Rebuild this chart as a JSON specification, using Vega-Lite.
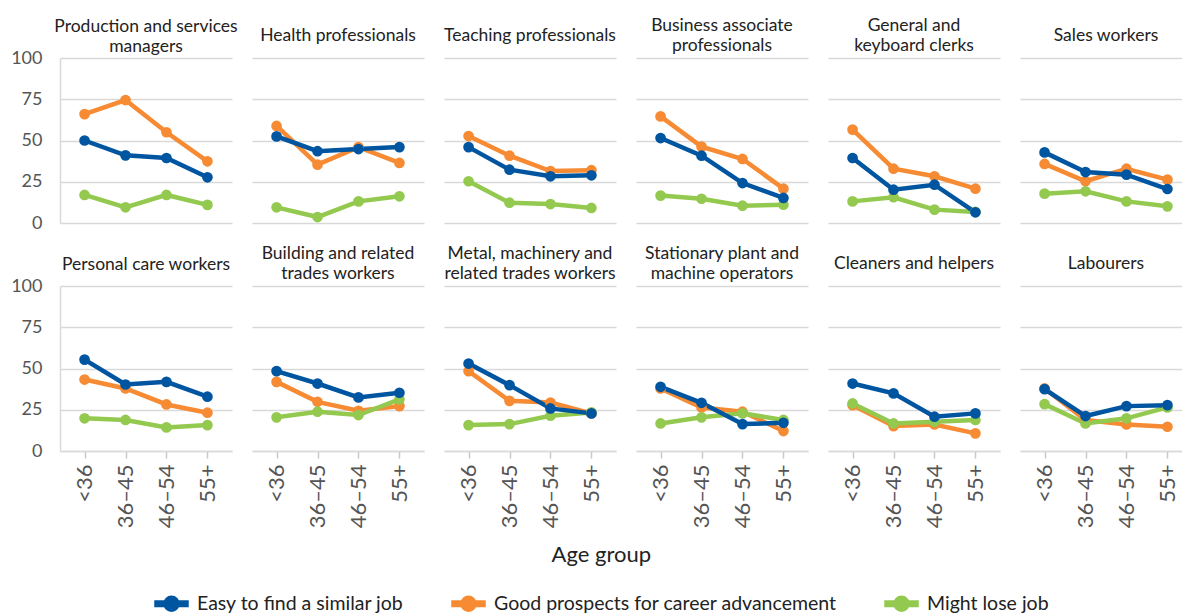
{
  "$schema": "https://vega.github.io/schema/vega-lite/v6.json",
  "padding": {"left": 10, "top": 16, "right": 0, "bottom": 0},
  "background": "white",
  "data": {"values": [
    {"occupation": "Production and services managers", "age": "<36", "easy": 50, "good": 66, "lose": 17},
    {"occupation": "Production and services managers", "age": "36–45", "easy": 41, "good": 74.5, "lose": 9.5},
    {"occupation": "Production and services managers", "age": "46–54", "easy": 39.4, "good": 55, "lose": 17},
    {"occupation": "Production and services managers", "age": "55+", "easy": 27.7, "good": 37.4, "lose": 11},
    {"occupation": "Health professionals", "age": "<36", "easy": 52.5, "good": 58.8, "lose": 9.5},
    {"occupation": "Health professionals", "age": "36–45", "easy": 43.5, "good": 35.4, "lose": 3.6},
    {"occupation": "Health professionals", "age": "46–54", "easy": 44.8, "good": 46, "lose": 13.1},
    {"occupation": "Health professionals", "age": "55+", "easy": 46, "good": 36.4, "lose": 16.2},
    {"occupation": "Teaching professionals", "age": "<36", "easy": 46, "good": 52.7, "lose": 25.3},
    {"occupation": "Teaching professionals", "age": "36–45", "easy": 32.3, "good": 40.8, "lose": 12.3},
    {"occupation": "Teaching professionals", "age": "46–54", "easy": 28.3, "good": 31.5, "lose": 11.5},
    {"occupation": "Teaching professionals", "age": "55+", "easy": 28.9, "good": 32, "lose": 9.1},
    {"occupation": "Business associate professionals", "age": "<36", "easy": 51.5, "good": 64.6, "lose": 16.6},
    {"occupation": "Business associate professionals", "age": "36–45", "easy": 40.8, "good": 46.3, "lose": 14.7},
    {"occupation": "Business associate professionals", "age": "46–54", "easy": 24.2, "good": 38.8, "lose": 10.5},
    {"occupation": "Business associate professionals", "age": "55+", "easy": 15.2, "good": 20.8, "lose": 11.1},
    {"occupation": "General and keyboard clerks", "age": "<36", "easy": 39.4, "good": 56.6, "lose": 13.1},
    {"occupation": "General and keyboard clerks", "age": "36–45", "easy": 20.2, "good": 32.9, "lose": 15.6},
    {"occupation": "General and keyboard clerks", "age": "46–54", "easy": 23.2, "good": 28.3, "lose": 8.1},
    {"occupation": "General and keyboard clerks", "age": "55+", "easy": 6.5, "good": 20.8, "lose": 6.7},
    {"occupation": "Sales workers", "age": "<36", "easy": 42.8, "good": 35.8, "lose": 17.8},
    {"occupation": "Sales workers", "age": "36–45", "easy": 30.9, "good": 25.3, "lose": 19.2},
    {"occupation": "Sales workers", "age": "46–54", "easy": 29.3, "good": 32.9, "lose": 13.1},
    {"occupation": "Sales workers", "age": "55+", "easy": 20.6, "good": 26.3, "lose": 10.1},
    {"occupation": "Personal care workers", "age": "<36", "easy": 55.4, "good": 43.3, "lose": 19.8},
    {"occupation": "Personal care workers", "age": "36–45", "easy": 40.3, "good": 37.9, "lose": 18.8},
    {"occupation": "Personal care workers", "age": "46–54", "easy": 41.9, "good": 28.2, "lose": 14.3},
    {"occupation": "Personal care workers", "age": "55+", "easy": 32.9, "good": 23.2, "lose": 15.7},
    {"occupation": "Building and related trades workers", "age": "<36", "easy": 48.4, "good": 41.9, "lose": 20.4},
    {"occupation": "Building and related trades workers", "age": "36–45", "easy": 40.9, "good": 29.8, "lose": 23.8},
    {"occupation": "Building and related trades workers", "age": "46–54", "easy": 32.5, "good": 24.4, "lose": 21.8},
    {"occupation": "Building and related trades workers", "age": "55+", "easy": 35.3, "good": 27.2, "lose": 31.3},
    {"occupation": "Metal, machinery and related trades workers", "age": "<36", "easy": 53, "good": 48.4, "lose": 15.7},
    {"occupation": "Metal, machinery and related trades workers", "age": "36–45", "easy": 39.9, "good": 30.4, "lose": 16.3},
    {"occupation": "Metal, machinery and related trades workers", "age": "46–54", "easy": 25.8, "good": 29.4, "lose": 21.4},
    {"occupation": "Metal, machinery and related trades workers", "age": "55+", "easy": 22.8, "good": 22.8, "lose": 23.4},
    {"occupation": "Stationary plant and machine operators", "age": "<36", "easy": 38.9, "good": 37.9, "lose": 16.7},
    {"occupation": "Stationary plant and machine operators", "age": "36–45", "easy": 29.2, "good": 26.4, "lose": 20.4},
    {"occupation": "Stationary plant and machine operators", "age": "46–54", "easy": 16.3, "good": 23.8, "lose": 22.8},
    {"occupation": "Stationary plant and machine operators", "age": "55+", "easy": 17.1, "good": 12.1, "lose": 18.8},
    {"occupation": "Cleaners and helpers", "age": "<36", "easy": 40.9, "good": 27.8, "lose": 28.8},
    {"occupation": "Cleaners and helpers", "age": "36–45", "easy": 34.9, "good": 15.1, "lose": 16.7},
    {"occupation": "Cleaners and helpers", "age": "46–54", "easy": 20.8, "good": 16.1, "lose": 17.7},
    {"occupation": "Cleaners and helpers", "age": "55+", "easy": 22.8, "good": 10.7, "lose": 18.8},
    {"occupation": "Labourers", "age": "<36", "easy": 37.5, "good": 37.9, "lose": 28.4},
    {"occupation": "Labourers", "age": "36–45", "easy": 21.2, "good": 18.8, "lose": 16.7},
    {"occupation": "Labourers", "age": "46–54", "easy": 27.2, "good": 16.1, "lose": 19.8},
    {"occupation": "Labourers", "age": "55+", "easy": 27.8, "good": 14.7, "lose": 26.4}
  ]},
  "transform": [
    {"fold": ["good", "lose", "easy"], "as": ["key", "value"]},
    {"lookup": "key", "from": {"data": {"values": [
      {"key": "easy", "measure": "Easy to find a similar job"},
      {"key": "good", "measure": "Good prospects for career advancement"},
      {"key": "lose", "measure": "Might lose job"}
    ]}, "key": "key", "fields": ["measure"]}}
  ],
  "vconcat": [
    {
      "title": {"text": "Age group", "orient": "bottom", "anchor": "middle", "font": "Lato", "fontSize": 22, "fontWeight": "normal", "color": "#222222", "baseline": "top", "offset": 17},
      "spacing": 12,
      "vconcat": [
        {
          "bounds": "flush",
          "spacing": 20,
          "hconcat": [
            {
              "title": {"text": ["Production and services", "managers"], "dy": 10},
              "transform": [{"filter": {"field": "occupation", "equal": "Production and services managers"}}],
              "mark": {"type": "line", "point": true},
              "encoding": {
                "x": {"field": "age", "type": "ordinal", "sort": ["<36", "36–45", "46–54", "55+"], "scale": {"type": "point", "padding": 0.6}, "axis": {"labels": false, "ticks": false, "domain": false}},
                "y": {"field": "value", "type": "quantitative", "scale": {"domain": [0, 100], "nice": false}, "axis": {"values": [0, 25, 50, 75, 100]}},
                "color": {"field": "measure", "type": "nominal", "legend": {"encode": {"symbols": {"update": {"fill": {"scale": "color", "field": "value"}, "stroke": {"value": "transparent"}}}}}}
              }
            },
            {
              "title": {"text": "Health professionals", "dy": -10},
              "transform": [{"filter": {"field": "occupation", "equal": "Health professionals"}}],
              "mark": {"type": "line", "point": true},
              "encoding": {
                "x": {"field": "age", "type": "ordinal", "sort": ["<36", "36–45", "46–54", "55+"], "scale": {"type": "point", "padding": 0.6}, "axis": {"labels": false, "ticks": false, "domain": false}},
                "y": {"field": "value", "type": "quantitative", "scale": {"domain": [0, 100], "nice": false}, "axis": {"values": [0, 25, 50, 75, 100], "labels": false, "domain": false}},
                "color": {"field": "measure", "type": "nominal", "legend": {"encode": {"symbols": {"update": {"fill": {"scale": "color", "field": "value"}, "stroke": {"value": "transparent"}}}}}}
              }
            },
            {
              "title": {"text": "Teaching professionals", "dy": -10},
              "transform": [{"filter": {"field": "occupation", "equal": "Teaching professionals"}}],
              "mark": {"type": "line", "point": true},
              "encoding": {
                "x": {"field": "age", "type": "ordinal", "sort": ["<36", "36–45", "46–54", "55+"], "scale": {"type": "point", "padding": 0.6}, "axis": {"labels": false, "ticks": false, "domain": false}},
                "y": {"field": "value", "type": "quantitative", "scale": {"domain": [0, 100], "nice": false}, "axis": {"values": [0, 25, 50, 75, 100], "labels": false, "domain": false}},
                "color": {"field": "measure", "type": "nominal", "legend": {"encode": {"symbols": {"update": {"fill": {"scale": "color", "field": "value"}, "stroke": {"value": "transparent"}}}}}}
              }
            },
            {
              "title": {"text": ["Business associate", "professionals"]},
              "transform": [{"filter": {"field": "occupation", "equal": "Business associate professionals"}}],
              "mark": {"type": "line", "point": true},
              "encoding": {
                "x": {"field": "age", "type": "ordinal", "sort": ["<36", "36–45", "46–54", "55+"], "scale": {"type": "point", "padding": 0.6}, "axis": {"labels": false, "ticks": false, "domain": false}},
                "y": {"field": "value", "type": "quantitative", "scale": {"domain": [0, 100], "nice": false}, "axis": {"values": [0, 25, 50, 75, 100], "labels": false, "domain": false}},
                "color": {"field": "measure", "type": "nominal", "legend": {"encode": {"symbols": {"update": {"fill": {"scale": "color", "field": "value"}, "stroke": {"value": "transparent"}}}}}}
              }
            },
            {
              "title": {"text": ["General and", "keyboard clerks"]},
              "transform": [{"filter": {"field": "occupation", "equal": "General and keyboard clerks"}}],
              "mark": {"type": "line", "point": true},
              "encoding": {
                "x": {"field": "age", "type": "ordinal", "sort": ["<36", "36–45", "46–54", "55+"], "scale": {"type": "point", "padding": 0.6}, "axis": {"labels": false, "ticks": false, "domain": false}},
                "y": {"field": "value", "type": "quantitative", "scale": {"domain": [0, 100], "nice": false}, "axis": {"values": [0, 25, 50, 75, 100], "labels": false, "domain": false}},
                "color": {"field": "measure", "type": "nominal", "legend": {"encode": {"symbols": {"update": {"fill": {"scale": "color", "field": "value"}, "stroke": {"value": "transparent"}}}}}}
              }
            },
            {
              "title": {"text": "Sales workers", "dy": -10},
              "transform": [{"filter": {"field": "occupation", "equal": "Sales workers"}}],
              "mark": {"type": "line", "point": true},
              "encoding": {
                "x": {"field": "age", "type": "ordinal", "sort": ["<36", "36–45", "46–54", "55+"], "scale": {"type": "point", "padding": 0.6}, "axis": {"labels": false, "ticks": false, "domain": false}},
                "y": {"field": "value", "type": "quantitative", "scale": {"domain": [0, 100], "nice": false}, "axis": {"values": [0, 25, 50, 75, 100], "labels": false, "domain": false}},
                "color": {"field": "measure", "type": "nominal", "legend": {"encode": {"symbols": {"update": {"fill": {"scale": "color", "field": "value"}, "stroke": {"value": "transparent"}}}}}}
              }
            }
          ]
        },
        {
          "bounds": "flush",
          "spacing": 20,
          "hconcat": [
            {
              "title": {"text": "Personal care workers", "dy": 0},
              "transform": [{"filter": {"field": "occupation", "equal": "Personal care workers"}}],
              "mark": {"type": "line", "point": true},
              "encoding": {
                "x": {"field": "age", "type": "ordinal", "sort": ["<36", "36–45", "46–54", "55+"], "scale": {"type": "point", "padding": 0.6}},
                "y": {"field": "value", "type": "quantitative", "scale": {"domain": [0, 100], "nice": false}, "axis": {"values": [0, 25, 50, 75, 100]}},
                "color": {"field": "measure", "type": "nominal", "legend": {"encode": {"symbols": {"update": {"fill": {"scale": "color", "field": "value"}, "stroke": {"value": "transparent"}}}}}}
              }
            },
            {
              "title": {"text": ["Building and related", "trades workers"]},
              "transform": [{"filter": {"field": "occupation", "equal": "Building and related trades workers"}}],
              "mark": {"type": "line", "point": true},
              "encoding": {
                "x": {"field": "age", "type": "ordinal", "sort": ["<36", "36–45", "46–54", "55+"], "scale": {"type": "point", "padding": 0.6}},
                "y": {"field": "value", "type": "quantitative", "scale": {"domain": [0, 100], "nice": false}, "axis": {"values": [0, 25, 50, 75, 100], "labels": false, "domain": false}},
                "color": {"field": "measure", "type": "nominal", "legend": {"encode": {"symbols": {"update": {"fill": {"scale": "color", "field": "value"}, "stroke": {"value": "transparent"}}}}}}
              }
            },
            {
              "title": {"text": ["Metal, machinery and", "related trades workers"]},
              "transform": [{"filter": {"field": "occupation", "equal": "Metal, machinery and related trades workers"}}],
              "mark": {"type": "line", "point": true},
              "encoding": {
                "x": {"field": "age", "type": "ordinal", "sort": ["<36", "36–45", "46–54", "55+"], "scale": {"type": "point", "padding": 0.6}},
                "y": {"field": "value", "type": "quantitative", "scale": {"domain": [0, 100], "nice": false}, "axis": {"values": [0, 25, 50, 75, 100], "labels": false, "domain": false}},
                "color": {"field": "measure", "type": "nominal", "legend": {"encode": {"symbols": {"update": {"fill": {"scale": "color", "field": "value"}, "stroke": {"value": "transparent"}}}}}}
              }
            },
            {
              "title": {"text": ["Stationary plant and", "machine operators"]},
              "transform": [{"filter": {"field": "occupation", "equal": "Stationary plant and machine operators"}}],
              "mark": {"type": "line", "point": true},
              "encoding": {
                "x": {"field": "age", "type": "ordinal", "sort": ["<36", "36–45", "46–54", "55+"], "scale": {"type": "point", "padding": 0.6}},
                "y": {"field": "value", "type": "quantitative", "scale": {"domain": [0, 100], "nice": false}, "axis": {"values": [0, 25, 50, 75, 100], "labels": false, "domain": false}},
                "color": {"field": "measure", "type": "nominal", "legend": {"encode": {"symbols": {"update": {"fill": {"scale": "color", "field": "value"}, "stroke": {"value": "transparent"}}}}}}
              }
            },
            {
              "title": {"text": "Cleaners and helpers", "dy": -10},
              "transform": [{"filter": {"field": "occupation", "equal": "Cleaners and helpers"}}],
              "mark": {"type": "line", "point": true},
              "encoding": {
                "x": {"field": "age", "type": "ordinal", "sort": ["<36", "36–45", "46–54", "55+"], "scale": {"type": "point", "padding": 0.6}},
                "y": {"field": "value", "type": "quantitative", "scale": {"domain": [0, 100], "nice": false}, "axis": {"values": [0, 25, 50, 75, 100], "labels": false, "domain": false}},
                "color": {"field": "measure", "type": "nominal", "legend": {"encode": {"symbols": {"update": {"fill": {"scale": "color", "field": "value"}, "stroke": {"value": "transparent"}}}}}}
              }
            },
            {
              "title": {"text": "Labourers", "dy": -10},
              "transform": [{"filter": {"field": "occupation", "equal": "Labourers"}}],
              "mark": {"type": "line", "point": true},
              "encoding": {
                "x": {"field": "age", "type": "ordinal", "sort": ["<36", "36–45", "46–54", "55+"], "scale": {"type": "point", "padding": 0.6}},
                "y": {"field": "value", "type": "quantitative", "scale": {"domain": [0, 100], "nice": false}, "axis": {"values": [0, 25, 50, 75, 100], "labels": false, "domain": false}},
                "color": {"field": "measure", "type": "nominal", "legend": {"encode": {"symbols": {"update": {"fill": {"scale": "color", "field": "value"}, "stroke": {"value": "transparent"}}}}}}
              }
            }
          ]
        }
      ]
    }
  ],
  "resolve": {"scale": {"x": "independent", "y": "independent"}},
  "config": {
    "view": {"stroke": null, "discreteWidth": 172, "continuousHeight": 165},
    "font": "Lato",
    "line": {"strokeWidth": 4.5},
    "point": {"filled": true, "size": 115, "opacity": 1},
    "range": {"category": ["#0055A0", "#F68B33", "#94C950"]},
    "title": {"font": "Lato", "fontSize": 17.5, "fontWeight": "normal", "color": "#222222", "anchor": "middle", "baseline": "bottom", "lineHeight": 20, "offset": 4},
    "axis": {"title": null, "labelFont": "Lato", "labelColor": "#555555", "domainColor": "#d9d9d9", "domainWidth": 1.5, "tickColor": "#c8c8c8", "tickWidth": 1.5, "gridColor": "#d9d9d9", "gridWidth": 1.5},
    "axisX": {"labelAngle": -90, "labelFontSize": 22, "labelPadding": 6, "tickSize": 7, "grid": false},
    "axisY": {"labelFontSize": 18, "labelPadding": 18, "ticks": false, "grid": true},
    "legend": {
      "title": null, "orient": "bottom", "direction": "horizontal",
      "labelFont": "Lato", "labelFontSize": 19.5, "labelColor": "#222222", "labelLimit": 0,
      "symbolType": "M-1,-0.09L1,-0.09L1,0.09L-1,0.09Z M-0.4,0A0.4,0.4,0,1,1,0.4,0A0.4,0.4,0,1,1,-0.4,0Z",
      "symbolSize": 900, "symbolStrokeWidth": 0, "labelOffset": 8, "columnPadding": 40, "offset": 20,
      "layout": {"bottom": {"anchor": "middle"}}
    }
  }
}
